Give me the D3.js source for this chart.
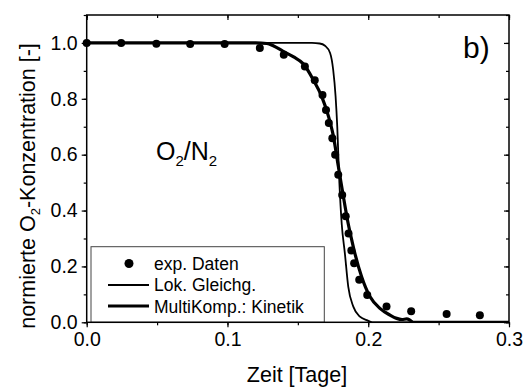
<!DOCTYPE html>
<html>
<head>
<meta charset="utf-8">
<script src="https://cdn.jsdelivr.net/npm/d3@7"></script>
<style>
	body { margin: 0; background: #fff; }
	svg { display: block; font-family: "Liberation Sans", Arial, sans-serif; }
</style>
</head>
<body>
<div id="chart"></div>
<script>
// Data
//-----------
var expTime = [0.0, 0.0245, 0.0495, 0.0735, 0.098, 0.123, 0.140, 0.155, 0.162, 0.1675, 0.170, 0.172, 0.1745,
	0.1765, 0.1787, 0.1815, 0.184, 0.186, 0.188, 0.190, 0.1936, 0.1993, 0.213, 0.2305, 0.2557, 0.2793];
var expConc = [1.0, 1.0, 0.997, 0.996, 0.996, 0.982, 0.958, 0.916, 0.866, 0.814, 0.760, 0.713, 0.659,
	0.600, 0.528, 0.456, 0.380, 0.318, 0.257, 0.211, 0.152, 0.098, 0.057, 0.040, 0.030, 0.025];

var lokTime = [0.0, 0.160, 0.1655, 0.1693, 0.1729, 0.1751, 0.1768, 0.178, 0.1795, 0.1812, 0.1834, 0.1858,
	0.1894, 0.1941, 0.1989, 0.203, 0.3];
var lokConc = [1.0, 1.0, 0.998, 0.99, 0.964, 0.904, 0.809, 0.70, 0.50, 0.35, 0.247, 0.128,
	0.056, 0.020, 0.008, 0.0, 0.0];

var kinTime = [0.0, 0.12, 0.128, 0.1325, 0.1396, 0.147, 0.1539, 0.161, 0.1669, 0.1716, 0.1751, 0.1787,
	0.182, 0.1855, 0.1885, 0.1906, 0.1953, 0.2012, 0.2083, 0.2154, 0.2202, 0.224, 0.2273, 0.2296, 0.232, 0.3];
var kinConc = [1.0, 1.0, 0.998, 0.99, 0.970, 0.950, 0.925, 0.868, 0.809, 0.74, 0.67, 0.56,
	0.46, 0.36, 0.29, 0.245, 0.163, 0.092, 0.050, 0.026, 0.014, 0.010, 0.012, 0.008, 0.0, 0.0];

var xTicks = [0.0, 0.1, 0.2, 0.3];
var yTicks = [0.0, 0.2, 0.4, 0.6, 0.8, 1.0];
var legendLabels = ["exp. Daten", "Lok. Gleichg.", "MultiKomp.: Kinetik"];

// Visualization attributes
//-----------
var w = 523;
var h = 389;
var pLeft = 86.7, pRight = 509, pTop = 15, pBottom = 322.3;

var svg = d3.select("#chart")
	.append("svg")
	.attr("width", w)
	.attr("height", h);

// Scales
//-----------
var xScale = d3.scaleLinear([0, 0.3], [pLeft, pRight]);
var yScale = d3.scaleLinear([0, 1.1], [pBottom, pTop]);

// Axes
//-----------
var fmt = d3.format(".1f");
var xMinor = d3.range(0, 0.3001, 0.05);
var yMinor = d3.range(0, 1.1001, 0.1);

svg.append("g")
	.attr("transform", "translate(0," + pBottom + ")")
	.call(d3.axisBottom(xScale).tickValues(xMinor).tickSize(3).tickFormat(""));
svg.append("g")
	.attr("class", "lbl")
	.attr("transform", "translate(0," + pBottom + ")")
	.call(d3.axisBottom(xScale).tickValues(xTicks).tickSize(5).tickPadding(5).tickFormat(fmt));

svg.append("g")
	.attr("transform", "translate(" + pLeft + ",0)")
	.call(d3.axisLeft(yScale).tickValues(yMinor).tickSize(3).tickFormat(""));
svg.append("g")
	.attr("class", "lbl")
	.attr("transform", "translate(" + pLeft + ",0)")
	.call(d3.axisLeft(yScale).tickValues(yTicks).tickSize(5).tickPadding(4).tickFormat(fmt));

// mirrored ticks, pointing inward
svg.append("g")
	.attr("transform", "translate(0," + pTop + ")")
	.call(d3.axisBottom(xScale).tickValues(xMinor).tickSize(3).tickFormat(""));
svg.append("g")
	.attr("transform", "translate(0," + pTop + ")")
	.call(d3.axisBottom(xScale).tickValues(xTicks).tickSize(5).tickFormat(""));
svg.append("g")
	.attr("transform", "translate(" + pRight + ",0)")
	.call(d3.axisLeft(yScale).tickValues(yMinor).tickSize(3).tickFormat(""));
svg.append("g")
	.attr("transform", "translate(" + pRight + ",0)")
	.call(d3.axisLeft(yScale).tickValues(yTicks).tickSize(5).tickFormat(""));

svg.selectAll(".domain").remove();
svg.selectAll(".tick line").attr("stroke", "#000").attr("stroke-width", 1.2);
svg.selectAll(".lbl text")
	.attr("font-family", "Liberation Sans, Arial, sans-serif")
	.attr("font-size", "19.5px")
	.attr("fill", "#000");

// Legend box
//-----------
svg.append("rect")
	.attr("x", 91)
	.attr("y", 246.7)
	.attr("width", 233.3)
	.attr("height", pBottom - 246.7)
	.attr("fill", "none")
	.attr("stroke", "#444")
	.attr("stroke-width", 1);

// Curves
//-----------
svg.append("clipPath").attr("id", "clip")
	.append("rect")
	.attr("x", pLeft).attr("y", pTop)
	.attr("width", pRight - pLeft).attr("height", pBottom - pTop);

var line = d3.line()
	.x(function(d) { return xScale(d[0]); })
	.y(function(d) { return yScale(d[1]); })
	.curve(d3.curveMonotoneX);

svg.append("path")
	.datum(d3.zip(lokTime, lokConc))
	.attr("d", line)
	.attr("clip-path", "url(#clip)")
	.attr("fill", "none")
	.attr("stroke", "#000")
	.attr("stroke-width", 1.8);

svg.append("path")
	.datum(d3.zip(kinTime, kinConc))
	.attr("d", line)
	.attr("clip-path", "url(#clip)")
	.attr("fill", "none")
	.attr("stroke", "#000")
	.attr("stroke-width", 3.2);

svg.selectAll("circle.exp")
	.data(d3.zip(expTime, expConc))
	.enter()
	.append("circle")
	.attr("class", "exp")
	.attr("cx", function(d) { return xScale(d[0]); })
	.attr("cy", function(d) { return yScale(d[1]); })
	.attr("r", 4)
	.attr("fill", "#000");

// Frame
//-----------
svg.append("rect")
	.attr("x", pLeft).attr("y", pTop)
	.attr("width", pRight - pLeft).attr("height", pBottom - pTop)
	.attr("fill", "none")
	.attr("stroke", "#000")
	.attr("stroke-width", 1.5);

// Legend entries
//-----------
var leg = svg.append("g");
leg.append("circle")
	.attr("cx", 129).attr("cy", 263.5).attr("r", 4.5).attr("fill", "#000");
leg.append("line")
	.attr("x1", 108).attr("x2", 149).attr("y1", 285).attr("y2", 285)
	.attr("stroke", "#000").attr("stroke-width", 1.8);
leg.append("line")
	.attr("x1", 108).attr("x2", 149).attr("y1", 306).attr("y2", 306)
	.attr("stroke", "#000").attr("stroke-width", 3.2);
leg.selectAll("text")
	.data(legendLabels)
	.enter()
	.append("text")
	.text(function(d) { return d; })
	.attr("x", 154)
	.attr("y", function(d, i) { return 270 + i * 21.3; })
	.attr("font-size", "17.5px")
	.attr("fill", "#000");

// Annotations
//-----------
var gas = svg.append("text")
	.attr("x", 156)
	.attr("y", 160)
	.attr("font-size", "25px")
	.attr("fill", "#000");
gas.append("tspan").text("O");
gas.append("tspan").text("2").attr("font-size", "15px").attr("dy", 6);
gas.append("tspan").text("/N").attr("dy", -6);
gas.append("tspan").text("2").attr("font-size", "15px").attr("dy", 6);

svg.append("text")
	.text("b)")
	.attr("x", 463)
	.attr("y", 58)
	.attr("font-size", "30px")
	.attr("fill", "#000");

// Axis titles
//-----------
svg.append("text")
	.text("Zeit [Tage]")
	.attr("text-anchor", "middle")
	.attr("x", 297)
	.attr("y", 382)
	.attr("font-size", "21.5px")
	.attr("fill", "#000");

var ytitle = svg.append("text")
	.attr("text-anchor", "middle")
	.attr("transform", "translate(35,186) rotate(-90)")
	.attr("font-size", "21.5px")
	.attr("fill", "#000");
ytitle.append("tspan").text("normierte O");
ytitle.append("tspan").text("2").attr("font-size", "13px").attr("dy", 5);
ytitle.append("tspan").text("-Konzentration [-]").attr("dy", -5);
</script>
</body>
</html>
